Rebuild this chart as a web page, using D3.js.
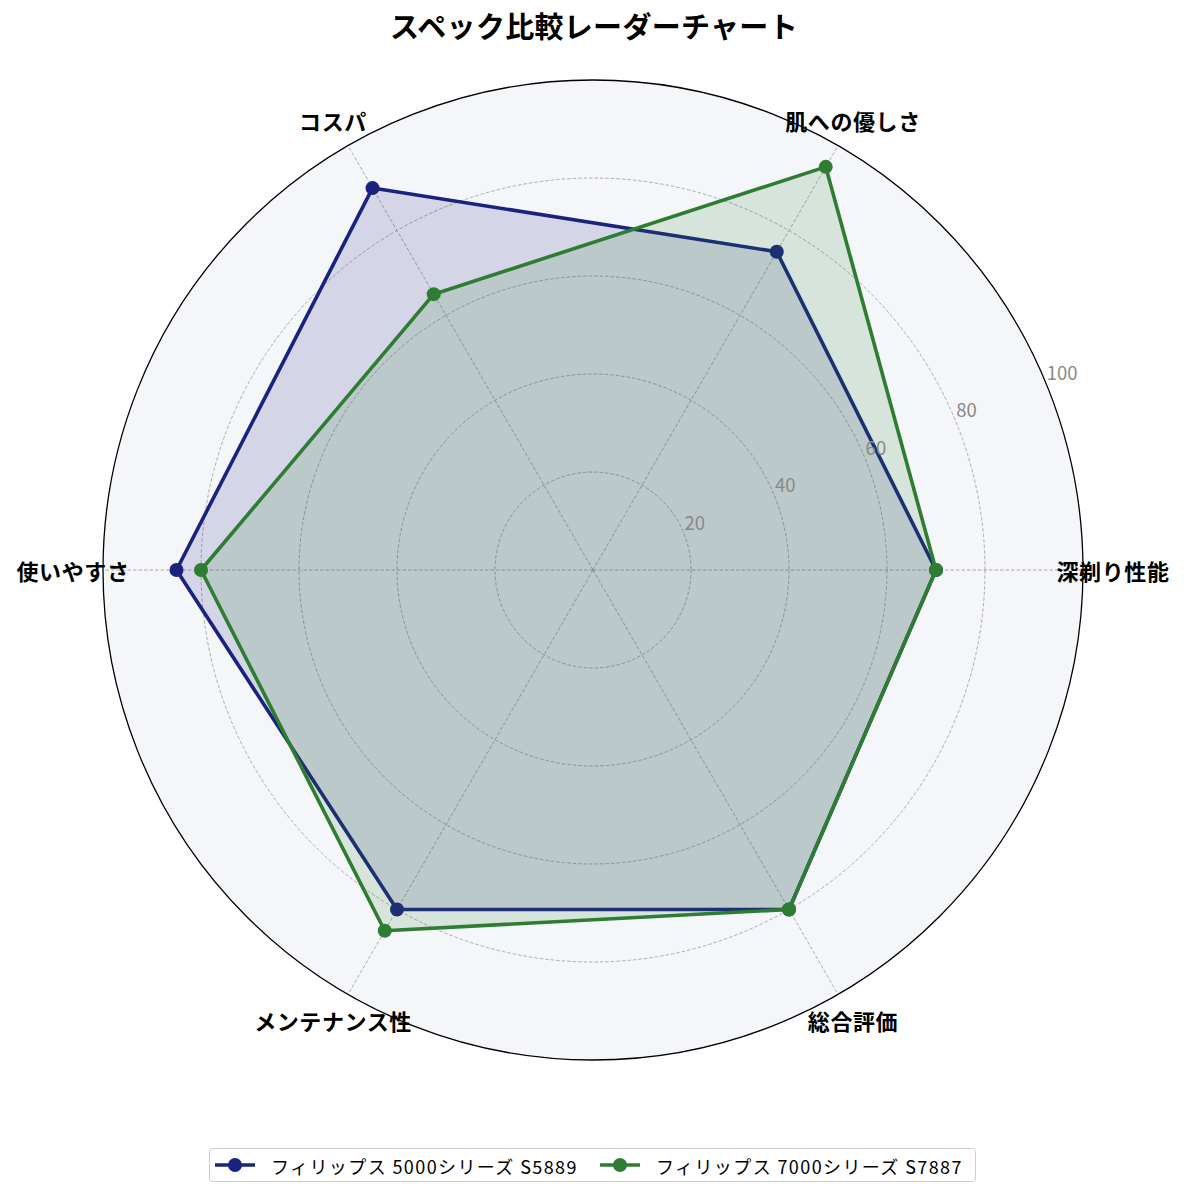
<!DOCTYPE html>
<html>
<head>
	<meta charset="utf-8">
	<script src="https://d3js.org/d3.v7.min.js"></script>
	<style>
		body { margin: 0; background: #ffffff; }
		svg text { font-family: "Noto Sans CJK JP", "Noto Sans", sans-serif; }
	</style>
</head>
<body>
	<script type="text/javascript">

		// categories and series values
		var categories = ["深剃り性能", "肌への優しさ", "コスパ", "使いやすさ", "メンテナンス性", "総合評価"];
		var seriesNames = ["フィリップス 5000シリーズ S5889", "フィリップス 7000シリーズ S7887"];
		var s5889 = [70, 75, 90, 85, 80, 80];
		var s7887 = [70, 95, 65, 80, 85, 80];
		var rTicks = [20, 40, 60, 80, 100];
		var colors = ["#1a237e", "#2e7d32"];

		var w = 1185;
		var h = 1198;
		var cx = 593, cy = 570;
		var R = 490;

		var svg = d3.select("body")
				.append("svg")
				.attr("width", w)
				.attr("height", h);

		var rScale = d3.scaleLinear().domain([0, 100]).range([0, R]);

		// angle of each category, math convention (counter clockwise from east)
		var aScale = d3.scaleLinear().domain([0, categories.length]).range([0, 2 * Math.PI]);

		// d3 radial angle: clockwise from north
		var radialAngle = function(i) { return Math.PI / 2 - aScale(i); };

		var g = svg.append("g").attr("transform", "translate(" + cx + "," + cy + ")");

		// title
		svg.append("text")
			.attr("x", cx + 1)
			.attr("y", 38)
			.attr("text-anchor", "middle")
			.attr("font-size", 29)
			.attr("letter-spacing", 0.3)
			.attr("font-weight", "bold")
			.attr("fill", "#000")
			.text("スペック比較レーダーチャート");

		// background
		g.append("circle")
			.attr("r", R)
			.attr("fill", "#f5f6fa");

		// rings
		g.selectAll(".ring")
			.data(rTicks.slice(0, -1))
			.enter()
			.append("circle")
			.attr("class", "ring")
			.attr("r", function(d) { return rScale(d); })
			.attr("fill", "none")
			.attr("stroke", "#999")
			.attr("stroke-width", 0.8)
			.attr("stroke-dasharray", "3.5,2");

		// spokes
		g.selectAll(".spoke")
			.data(categories)
			.enter()
			.append("line")
			.attr("class", "spoke")
			.attr("x1", 0).attr("y1", 0)
			.attr("x2", function(d, i) { return rScale(100) * Math.cos(aScale(i)); })
			.attr("y2", function(d, i) { return -rScale(100) * Math.sin(aScale(i)); })
			.attr("stroke", "#999")
			.attr("stroke-width", 0.8)
			.attr("stroke-dasharray", "3.5,2");

		// series
		var radar = d3.lineRadial()
				.angle(function(d, i) { return radialAngle(i); })
				.radius(function(d) { return rScale(d); })
				.curve(d3.curveLinearClosed);

		[s5889, s7887].forEach(function(vals, k) {
			var sg = g.append("g");
			sg.append("path")
				.attr("d", radar(vals))
				.attr("fill", "none")
				.attr("stroke", colors[k])
				.attr("stroke-width", 3.6)
				.attr("stroke-linejoin", "round");
			sg.selectAll("circle")
				.data(vals)
				.enter()
				.append("circle")
				.attr("cx", function(d, i) { return rScale(d) * Math.cos(aScale(i)); })
				.attr("cy", function(d, i) { return -rScale(d) * Math.sin(aScale(i)); })
				.attr("r", 7)
				.attr("fill", colors[k]);
			sg.append("path")
				.attr("d", radar(vals))
				.attr("fill", colors[k])
				.attr("fill-opacity", 0.15)
				.attr("stroke", "none");
		});

		// outer circle
		g.append("circle")
			.attr("r", R)
			.attr("fill", "none")
			.attr("stroke", "#000")
			.attr("stroke-width", 1.3);

		// radial tick labels at 22.5 deg
		var labA = 22.5 * Math.PI / 180;
		g.selectAll(".rlab")
			.data(rTicks)
			.enter()
			.append("text")
			.attr("class", "rlab")
			.attr("x", function(d) { return rScale(d) * Math.cos(labA) + 1; })
			.attr("y", function(d) { return -rScale(d) * Math.sin(labA) - 3; })
			.attr("font-size", 18.5)
			.attr("fill", "#888")
			.text(function(d) { return d; });

		// category labels
		g.selectAll(".clab")
			.data(categories)
			.enter()
			.append("text")
			.attr("class", "clab")
			.attr("x", function(d, i) { return (R + 30) * Math.cos(aScale(i)); })
			.attr("y", function(d, i) { return -(R + 30) * Math.sin(aScale(i)); })
			.attr("text-anchor", "middle")
			.attr("dominant-baseline", "central")
			.attr("font-size", 22)
			.attr("letter-spacing", 0.6)
			.attr("font-weight", "bold")
			.attr("fill", "#000")
			.text(function(d) { return d; });

		// legend
		var lg = svg.append("g");
		lg.append("rect")
			.attr("x", 209.5).attr("y", 1148.5)
			.attr("width", 766).attr("height", 33)
			.attr("rx", 3)
			.attr("fill", "#fff")
			.attr("stroke", "#ccc")
			.attr("stroke-width", 1);

		var legX = [215, 600];
		seriesNames.forEach(function(name, k) {
			var x0 = legX[k];
			lg.append("line")
				.attr("x1", x0).attr("x2", x0 + 40)
				.attr("y1", 1165).attr("y2", 1165)
				.attr("stroke", colors[k])
				.attr("stroke-width", 3.6);
			lg.append("circle")
				.attr("cx", x0 + 20).attr("cy", 1165)
				.attr("r", 7)
				.attr("fill", colors[k]);
			lg.append("text")
				.attr("x", x0 + 56).attr("y", 1166)
				.attr("dominant-baseline", "central")
				.attr("font-size", 18)
				.attr("letter-spacing", 1.4)
				.attr("fill", "#000")
				.text(name);
		});

	</script>
</body>
</html>
